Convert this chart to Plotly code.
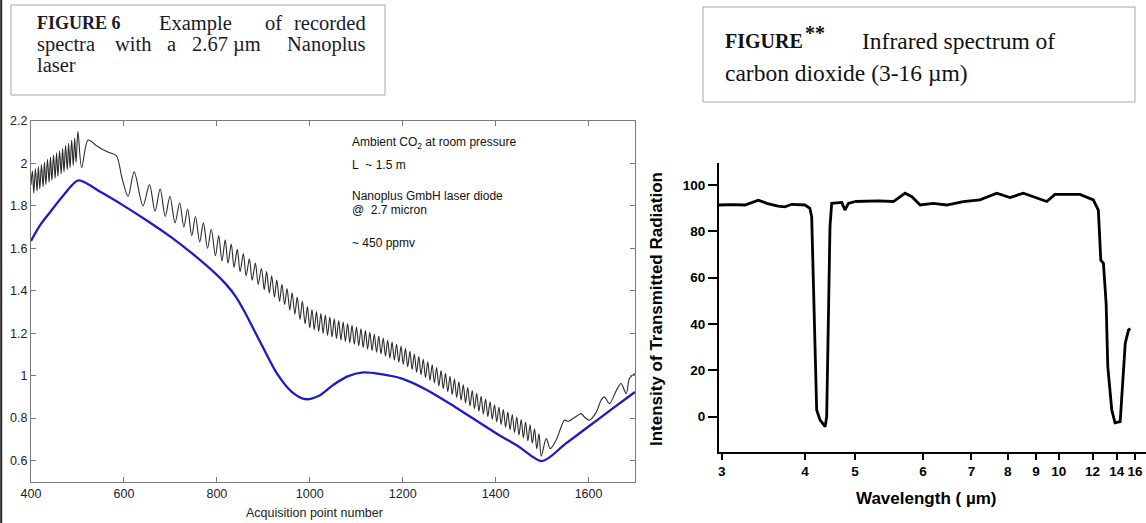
import plotly.graph_objects as go

W, H = 1146, 523

# ---------------- FIGURE 6 (left chart) ----------------
blue_x = [400, 420, 441, 470, 502, 550, 600, 650, 700, 750, 800, 820, 840, 860, 880, 900,
          930, 960, 990, 1020, 1050, 1080, 1115, 1150, 1200, 1250, 1300, 1350, 1400, 1450,
          1500, 1550, 1600, 1650, 1700]
blue_y = [1.635, 1.71, 1.77, 1.85, 1.92, 1.865, 1.80, 1.73, 1.655, 1.57, 1.475, 1.43, 1.375,
          1.30, 1.215, 1.13, 1.008, 0.926, 0.889, 0.905, 0.955, 0.995, 1.015, 1.008, 0.985,
          0.935, 0.87, 0.80, 0.73, 0.665, 0.597, 0.678, 0.76, 0.842, 0.923]

black_x = [400, 403, 406, 409.5, 413, 416, 419, 422.5, 426, 429, 432, 435.5, 439, 442, 445,
           448.5, 452, 455, 458, 461.5, 465, 468, 471, 474.5, 478, 481, 484, 487.5, 491, 494,
           497, 501, 509, 523, 540, 555, 570, 584, 596,
           609, 622, 641, 655, 667, 678, 689, 699, 710, 720, 729, 737, 746, 754, 763, 771,
           780, 788, 797, 804, 811, 818, 824, 831, 837, 844, 850, 857, 863, 870, 876, 883,
           889, 896, 902, 907, 913, 918, 924, 929, 935, 940, 946, 951, 957, 962, 968, 973,
           979, 984, 990, 995,
           1000.0, 1004.8, 1009.6, 1014.4, 1019.2, 1024.0, 1028.7, 1033.5, 1038.3, 1043.1,
           1047.9, 1052.7, 1057.5, 1062.3, 1067.1, 1071.9, 1076.6, 1081.4, 1086.2, 1091.0,
           1095.8, 1100.6, 1105.4, 1110.2, 1115.0, 1119.8, 1124.5, 1129.3, 1134.1, 1138.9,
           1143.7, 1148.5, 1153.3, 1158.1, 1162.9, 1167.7, 1172.4, 1177.2, 1182.0, 1186.8,
           1191.6, 1196.4, 1201.2, 1206.0, 1210.8, 1215.6, 1220.3, 1225.1, 1229.9, 1234.7,
           1239.5, 1244.3, 1249.1, 1253.9, 1258.7, 1263.5, 1268.2, 1273.0, 1277.8, 1282.6,
           1287.4, 1292.2, 1297.0, 1301.8, 1306.6, 1311.4, 1316.1, 1320.9, 1325.7, 1330.5,
           1335.3, 1340.1, 1344.9, 1349.7, 1354.5, 1359.3, 1364.0, 1368.8, 1373.6, 1378.4,
           1383.2, 1388.0, 1392.8, 1397.6, 1402.4, 1407.2, 1411.9, 1416.7, 1421.5, 1426.3,
           1431.1, 1435.9, 1440.7, 1445.5, 1450.3, 1455.1, 1459.8, 1464.6, 1469.4, 1474.2,
           1479.0, 1483.8, 1488.6, 1493.4, 1498.2,
           1509, 1517.5, 1530, 1541, 1548, 1557, 1566, 1575, 1584, 1591, 1602, 1617, 1627,
           1634, 1645, 1660, 1670, 1681, 1688, 1695, 1700]
black_y = [1.90, 1.965, 1.86, 1.975, 1.87, 1.985, 1.88, 1.995, 1.89, 2.005, 1.90, 2.02, 1.91,
           2.03, 1.92, 2.04, 1.93, 2.05, 1.94, 2.06, 1.95, 2.07, 1.96, 2.085, 1.97, 2.095, 1.98,
           2.11, 1.99, 2.12, 2.005, 2.15, 1.98, 2.11, 2.085, 2.065, 2.05, 2.035, 1.93,
           1.845, 1.96, 1.80, 1.90, 1.775, 1.88, 1.75, 1.845, 1.72, 1.815, 1.70, 1.785, 1.66,
           1.75, 1.63, 1.72, 1.60, 1.69, 1.565, 1.66, 1.54, 1.64, 1.53, 1.62, 1.51, 1.595, 1.49,
           1.575, 1.47, 1.55, 1.45, 1.53, 1.43, 1.505, 1.405, 1.49, 1.39, 1.47, 1.37, 1.45,
           1.35, 1.43, 1.335, 1.41, 1.31, 1.39, 1.29, 1.37, 1.265, 1.35, 1.245, 1.325,
           1.225, 1.311, 1.216, 1.302, 1.208, 1.293, 1.199, 1.285, 1.190, 1.276,
           1.182, 1.268, 1.175, 1.260, 1.168, 1.252, 1.161, 1.245, 1.155, 1.237,
           1.148, 1.229, 1.141, 1.221, 1.133, 1.212, 1.125, 1.204, 1.118, 1.195,
           1.110, 1.186, 1.102, 1.177, 1.092, 1.167, 1.083, 1.158, 1.073, 1.148,
           1.063, 1.139, 1.053, 1.127, 1.041, 1.115, 1.029, 1.102, 1.016, 1.090,
           1.004, 1.077, 0.991, 1.065, 0.978, 1.051, 0.965, 1.038, 0.951, 1.024,
           0.938, 1.011, 0.924, 0.997, 0.911, 0.984, 0.897, 0.971, 0.884, 0.957,
           0.871, 0.944, 0.857, 0.930, 0.844, 0.917, 0.832, 0.903, 0.819, 0.890,
           0.807, 0.877, 0.794, 0.863, 0.782, 0.851, 0.770, 0.840, 0.757, 0.828,
           0.745, 0.817, 0.732, 0.805, 0.720, 0.793, 0.707, 0.781, 0.692, 0.768,
           0.681, 0.749, 0.655, 0.727, 0.620,
           0.703, 0.656, 0.695, 0.758, 0.79, 0.785, 0.797, 0.81, 0.821, 0.805, 0.79, 0.829,
           0.884, 0.90, 0.868, 0.931, 0.963, 0.915, 0.986, 1.002, 1.01]

left_xticks = [400, 600, 800, 1000, 1200, 1400, 1600]
left_yticks = [0.6, 0.8, 1.0, 1.2, 1.4, 1.6, 1.8, 2.0, 2.2]
left_ytick_labels = ["0.6", "0.8", "1", "1.2", "1.4", "1.6", "1.8", "2", "2.2"]

# ---------------- CO2 infrared spectrum (right chart) ----------------
co2_wavelength = [2.976, 3.10, 3.226, 3.37, 3.47, 3.61, 3.70, 3.80, 4.00, 4.08, 4.11, 4.14,
                  4.167, 4.196, 4.255, 4.35, 4.38, 4.40, 4.42, 4.444, 4.478, 4.69, 4.76, 4.84,
                  5.00, 5.30, 5.52, 5.70, 5.81, 5.95, 6.19, 6.45, 6.81, 7.21, 7.67, 8.07, 8.52,
                  9.03, 9.45, 9.82, 11.17, 12.05, 12.42, 12.61, 12.82, 13.04, 13.18, 13.53,
                  13.83, 14.33, 14.60, 14.86, 15.22, 15.43]
co2_transmission = [91.4, 91.6, 91.4, 93.5, 92.1, 90.9, 90.6, 91.7, 91.4, 90.0, 86.3, 57.6,
                    28.8, 2.9, -1.4, -4.3, 0.0, 28.8, 54.7, 82.0, 92.1, 92.5, 89.2, 92.1,
                    92.9, 93.2, 92.9, 96.5, 95.0, 91.4, 92.1, 91.4, 92.9, 93.6, 96.5, 94.6,
                    96.5, 94.3, 92.9, 96.0, 96.0, 93.6, 89.2, 67.6, 66.2, 48.9, 21.6, 2.9,
                    -2.6, -2.1, 14.4, 31.7, 37.4, 38.1]
right_xtick_wavelengths = [3, 4, 5, 6, 7, 8, 9, 10, 12, 14, 16]
right_yticks = [0, 20, 40, 60, 80, 100]
SCALE_BREAK_UM = 5.0   # axis is linear in wavenumber, scale doubles below 2000 cm-1


def PX(v):
    return v / W


def PY(v):
    return 1 - v / H


fig = go.Figure()

# left chart traces
fig.add_trace(go.Scatter(x=black_x, y=black_y, mode="lines", xaxis="x", yaxis="y",
                         line=dict(color="#2a2a2a", width=1.1, shape="spline", smoothing=0.9),
                         hoverinfo="skip"))
fig.add_trace(go.Scatter(x=blue_x, y=blue_y, mode="lines", xaxis="x", yaxis="y",
                         line=dict(color="#1c1cc8", width=2.3, shape="spline", smoothing=0.8),
                         hoverinfo="skip"))

# right chart traces (wavenumber-linear broken axis)
hi_x = [1e4 / w for w in co2_wavelength if w <= SCALE_BREAK_UM]
hi_y = [t for w, t in zip(co2_wavelength, co2_transmission) if w <= SCALE_BREAK_UM]
lo_x = [1e4 / w for w in co2_wavelength if w >= SCALE_BREAK_UM]
lo_y = [t for w, t in zip(co2_wavelength, co2_transmission) if w >= SCALE_BREAK_UM]
fig.add_trace(go.Scatter(x=hi_x, y=hi_y, mode="lines", xaxis="x2", yaxis="y2",
                         line=dict(color="black", width=2.8), hoverinfo="skip"))
fig.add_trace(go.Scatter(x=lo_x, y=lo_y, mode="lines", xaxis="x3", yaxis="y2",
                         line=dict(color="black", width=2.8), hoverinfo="skip"))

left_font = dict(family="Liberation Sans, Arial, sans-serif", size=12.5, color="#222222")
right_font = dict(family="Liberation Sans, Arial, sans-serif", size=13.5, color="black",
                  weight="bold")
frame = "#7a7a7a"

hi_ticks = [1e4 / w for w in right_xtick_wavelengths if w < SCALE_BREAK_UM]
hi_text = [str(w) for w in right_xtick_wavelengths if w < SCALE_BREAK_UM]
lo_ticks = [1e4 / w for w in right_xtick_wavelengths if w >= SCALE_BREAK_UM]
lo_text = [str(w) for w in right_xtick_wavelengths if w >= SCALE_BREAK_UM]

common = dict(showgrid=False, zeroline=False, automargin=False)

fig.update_layout(
    template="none",
    width=W, height=H, autosize=False,
    margin=dict(l=0, r=0, t=0, b=0, pad=0),
    paper_bgcolor="white", plot_bgcolor="white",
    showlegend=False,
    xaxis=dict(domain=[PX(31), PX(635)], range=[400, 1700], anchor="y",
               showline=True, linecolor=frame, linewidth=1, mirror="ticks",
               ticks="inside", ticklen=5, tickcolor=frame, tickwidth=1,
               tickvals=left_xticks, tickfont=left_font, **common),
    yaxis=dict(domain=[PY(481.7), PY(121)], range=[0.5, 2.2], anchor="x",
               showline=True, linecolor=frame, linewidth=1, mirror="ticks",
               ticks="inside", ticklen=5, tickcolor=frame, tickwidth=1,
               tickvals=left_yticks, ticktext=left_ytick_labels, tickfont=left_font,
               **common),
    xaxis2=dict(domain=[PX(719), PX(855)], range=[3360, 2000], anchor="y2",
                showline=True, linecolor="black", linewidth=2,
                ticks="outside", ticklen=6, tickwidth=1.5, tickcolor="black",
                tickvals=hi_ticks, ticktext=hi_text, tickfont=right_font, **common),
    xaxis3=dict(domain=[PX(855), 1.0], range=[2000.5, 571], anchor="y2",
                showline=True, linecolor="black", linewidth=2,
                ticks="outside", ticklen=6, tickwidth=1.5, tickcolor="black",
                tickvals=lo_ticks, ticktext=lo_text, tickfont=right_font, **common),
    yaxis2=dict(domain=[PY(451.7), PY(163.3)], range=[-15.1, 109.4], anchor="x2",
                showline=True, linecolor="black", linewidth=2,
                ticks="outside", ticklen=9, tickwidth=1.5, tickcolor="black",
                tickvals=right_yticks, tickfont=right_font, **common),
)

ann = []


def add_text(text, x, y, size, family, color="#111111", xanchor="left", bold=False,
             angle=0):
    f = dict(family=family, size=size, color=color)
    if bold:
        f["weight"] = "bold"
    ann.append(dict(text=text, x=PX(x), y=PY(y), xref="paper", yref="paper",
                    xanchor=xanchor, yanchor="middle", showarrow=False, font=f,
                    textangle=angle))


sans = "Liberation Sans, Arial, sans-serif"
serif = "Liberation Serif, Times New Roman, serif"
nb = "\u00a0"

# left chart notes
add_text("Ambient CO<sub>2</sub> at room pressure", 350, 143, 12, sans)
add_text("L" + nb * 2 + "~ 1.5 m", 350, 165, 12, sans)
add_text("Nanoplus GmbH laser diode", 350, 196, 12, sans)
add_text("@" + nb * 2 + "2.7 micron", 350, 210, 12, sans)
add_text("~ 450 ppmv", 350, 243, 12, sans)
add_text("Acquisition point number", 314, 513, 12.5, sans, color="#222222", xanchor="center")

# right chart titles
add_text("Intensity of Transmitted Radiation", 656, 309, 17, sans, color="black",
         xanchor="center", bold=True, angle=-90)
add_text("Wavelength (" + nb + "\u00b5m)", 926, 498, 17, sans, color="black",
         xanchor="center", bold=True)

# caption box 1 (justified words)
cap = "#1a1a2a"
add_text("FIGURE 6", 35, 23, 18, serif, color=cap, bold=True)
add_text("Example", 157, 23, 20.5, serif, color=cap)
add_text("of", 263, 23, 20.5, serif, color=cap)
add_text("recorded", 368, 23, 20.5, serif, color=cap, xanchor="right")
add_text("spectra", 35, 44, 20.5, serif, color=cap)
add_text("with", 113, 44, 20.5, serif, color=cap)
add_text("a", 165, 44, 20.5, serif, color=cap)
add_text("2.67" + nb + "\u00b5m", 190, 44, 20.5, serif, color=cap)
add_text("Nanoplus", 368, 44, 20.5, serif, color=cap, xanchor="right")
add_text("laser", 35, 65, 20.5, serif, color=cap)

# caption box 2
add_text("FIGURE", 723, 41, 20, serif, color="#111111", bold=True)
add_text("**", 803, 33, 20, serif, color="#111111", bold=True)
add_text("Infrared spectrum of", 860, 41, 23.5, serif, color="#111111")
add_text("carbon dioxide (3-16 \u00b5m)", 723, 73, 23.5, serif, color="#111111")

fig.update_layout(annotations=ann)

fig.update_layout(shapes=[
    dict(type="rect", xref="paper", yref="paper", x0=PX(11), x1=PX(385), y0=PY(95),
         y1=PY(5), line=dict(color="#a6a6a6", width=1)),
    dict(type="rect", xref="paper", yref="paper", x0=PX(703), x1=PX(1135), y0=PY(102),
         y1=PY(7), line=dict(color="#a6a6a6", width=1)),
    dict(type="line", xref="paper", yref="paper", x0=PX(1.2), x1=PX(1.2), y0=0, y1=1,
         line=dict(color="#222222", width=2)),
])

fig.write_html("out.html", config={"displayModeBar": False, "responsive": False},
               post_script="document.body.style.margin='0';"
                           "document.body.style.overflow='hidden';")
